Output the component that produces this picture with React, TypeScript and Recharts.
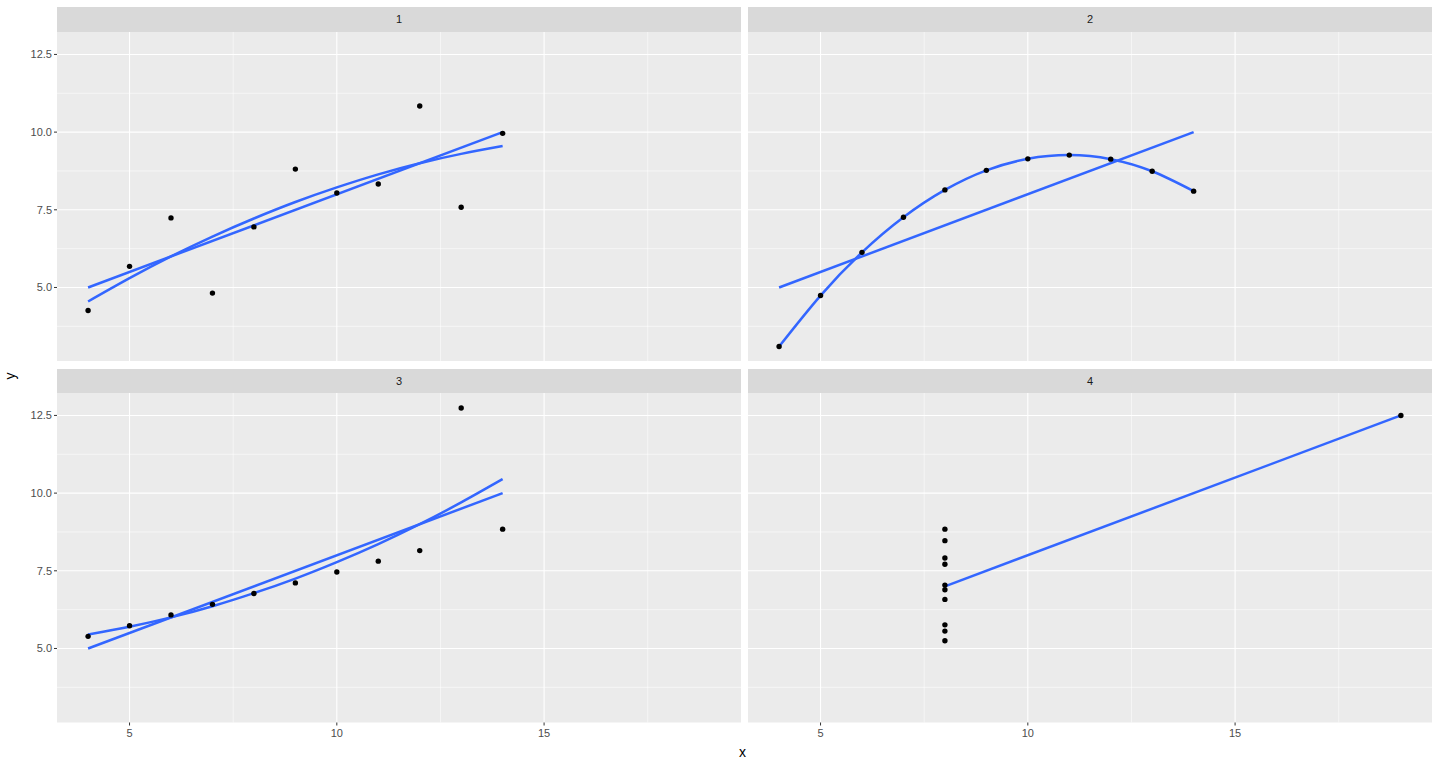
import React from "react";
import { CartesianGrid, ComposedChart, Line, Scatter, XAxis, YAxis } from "recharts";

// Anscombe's quartet
const x123 = [10, 8, 13, 9, 11, 14, 6, 4, 12, 7, 5];
const y1 = [8.04, 6.95, 7.58, 8.81, 8.33, 9.96, 7.24, 4.26, 10.84, 4.82, 5.68];
const y2 = [9.14, 8.14, 8.74, 8.77, 9.26, 8.1, 6.13, 3.1, 9.13, 7.26, 4.74];
const y3 = [7.46, 6.77, 12.74, 7.11, 7.81, 8.84, 6.08, 5.39, 8.15, 6.42, 5.73];
const x4 = [8, 8, 8, 8, 8, 8, 8, 19, 8, 8, 8];
const y4 = [6.58, 5.76, 7.71, 8.84, 8.47, 7.04, 5.25, 12.5, 5.56, 7.91, 6.89];

// fitted lines (blue)
const curveX = [4, 5, 6, 7, 8, 9, 10, 11, 12, 13, 14];
const curve1 = [4.55, 5.3, 6.0, 6.64, 7.22, 7.75, 8.22, 8.64, 9.0, 9.3, 9.55];
const curve2 = [3.1, 4.74, 6.13, 7.26, 8.14, 8.77, 9.14, 9.26, 9.13, 8.74, 8.1];
const curve3 = [5.45, 5.7, 6.0, 6.36, 6.78, 7.25, 7.78, 8.36, 9.0, 9.7, 10.45];
const lineX123 = [4, 14];
const lineY123 = [5, 10];
const lineX4 = [8, 19];
const lineY4 = [7, 12.5];

const xTicks = [5, 10, 15];
const yTicks = [5, 7.5, 10, 12.5];
const xMinor = [7.5, 12.5, 17.5];
const yMinor = [3.75, 6.25, 8.75, 11.25];

const zip = (xs: number[], ys: number[]) => xs.map((x, i) => ({ x, y: ys[i] }));

const PLOT_W = 684;
const PLOT_H = 329.5;
const Y_AXIS_W = 50;
const X_AXIS_H = 24;
const STRIP_H = 24.5;
const FONT = "'Liberation Sans', Arial, sans-serif";

const Dot = (props: any) => <circle cx={props.cx} cy={props.cy} r={2.7} fill="#000" />;

type PanelProps = {
  label: string;
  left: number;
  top: number;
  showX: boolean;
  showY: boolean;
  points: { x: number; y: number }[];
  curve?: { x: number; y: number }[];
  line: { x: number; y: number }[];
};

function Panel({ label, left, top, showX, showY, points, curve, line }: PanelProps) {
  const w = PLOT_W + (showY ? Y_AXIS_W : 0);
  const h = PLOT_H + (showX ? X_AXIS_H : 0);
  const tick = { fontSize: 11, fill: "#4D4D4D", fontFamily: FONT };
  return (
    <>
      <div
        style={{
          position: "absolute",
          left,
          top: top - STRIP_H,
          width: PLOT_W,
          height: STRIP_H,
          background: "#D9D9D9",
          color: "#1A1A1A",
          fontSize: 11,
          lineHeight: `${STRIP_H}px`,
          textAlign: "center",
        }}
      >
        {label}
      </div>
      <div style={{ position: "absolute", left: left - (showY ? Y_AXIS_W : 0), top }}>
        <ComposedChart width={w} height={h} margin={{ top: 0, right: 0, bottom: 0, left: 0 }}>
          <XAxis
            dataKey="x"
            type="number"
            domain={[3.25, 19.75]}
            allowDataOverflow
            ticks={xTicks}
            hide={!showX}
            height={X_AXIS_H}
            axisLine={false}
            tickLine={{ stroke: "#333333" }}
            tickSize={3}
            tickMargin={4}
            tick={tick}
          />
          <YAxis
            dataKey="y"
            type="number"
            domain={[2.618, 13.222]}
            allowDataOverflow
            ticks={yTicks}
            hide={!showY}
            width={Y_AXIS_W}
            axisLine={false}
            tickLine={{ stroke: "#333333" }}
            tickSize={3}
            tickMargin={2}
            tick={tick}
            tickFormatter={(v: number) => v.toFixed(1)}
          />
          <CartesianGrid
            horizontalValues={yMinor}
            verticalValues={xMinor}
            stroke="#FFFFFF"
            strokeWidth={0.55}
            fill="#EBEBEB"
            fillOpacity={1}
          />
          <CartesianGrid horizontalValues={yTicks} verticalValues={xTicks} stroke="#FFFFFF" strokeWidth={1.1} />
          <Scatter data={points} dataKey="y" shape={Dot} isAnimationActive={false} />
          <Line
            data={line}
            dataKey="y"
            type="linear"
            stroke="#3366FF"
            strokeWidth={2.5}
            dot={false}
            activeDot={false}
            isAnimationActive={false}
          />
          {curve && (
            <Line
              data={curve}
              dataKey="y"
              type="natural"
              stroke="#3366FF"
              strokeWidth={2.5}
              dot={false}
              activeDot={false}
              isAnimationActive={false}
            />
          )}
        </ComposedChart>
      </div>
    </>
  );
}

export default function App() {
  const cols = [57, 748];
  const rows = [31.5, 393];
  const lineA = zip(lineX123, lineY123);
  return (
    <div
      style={{
        position: "absolute",
        left: 0,
        top: 0,
        width: 1440,
        height: 768,
        background: "#FFFFFF",
        fontFamily: FONT,
      }}
    >
      <Panel label="1" left={cols[0]} top={rows[0]} showX={false} showY points={zip(x123, y1)} curve={zip(curveX, curve1)} line={lineA} />
      <Panel label="2" left={cols[1]} top={rows[0]} showX={false} showY={false} points={zip(x123, y2)} curve={zip(curveX, curve2)} line={lineA} />
      <Panel label="3" left={cols[0]} top={rows[1]} showX showY points={zip(x123, y3)} curve={zip(curveX, curve3)} line={lineA} />
      <Panel label="4" left={cols[1]} top={rows[1]} showX showY={false} points={zip(x4, y4)} line={zip(lineX4, lineY4)} />
      <div style={{ position: "absolute", left: 739, top: 744, fontSize: 14, color: "#000" }}>x</div>
      <div
        style={{
          position: "absolute",
          left: 6,
          top: 368,
          fontSize: 14,
          color: "#000",
          transform: "rotate(-90deg)",
        }}
      >
        y
      </div>
    </div>
  );
}
